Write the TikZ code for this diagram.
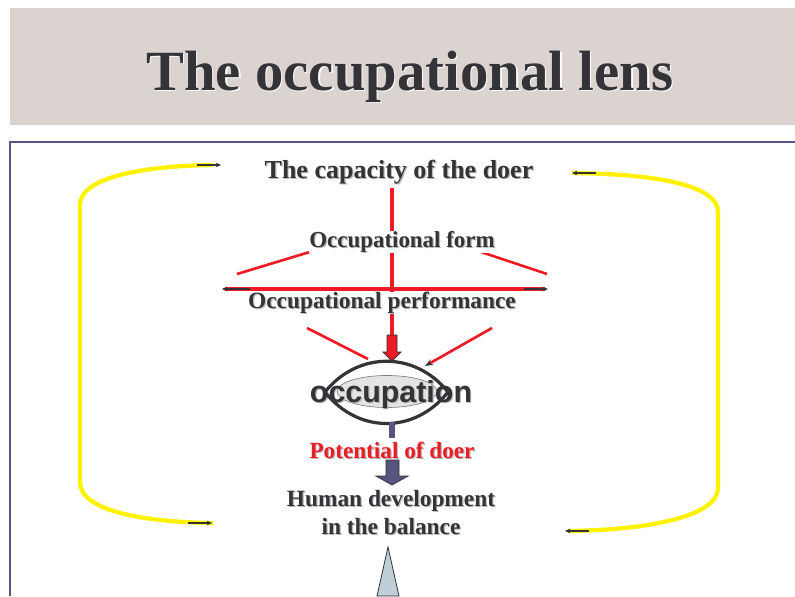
\documentclass[tikz,border=0pt]{standalone}
\usepackage{fontspec}
\setmainfont{Liberation Serif}
\newfontfamily\arialfont{Liberation Sans}
\usetikzlibrary{arrows.meta,calc}

\definecolor{bandgray}{RGB}{218,211,208}
\definecolor{framepurple}{RGB}{88,86,128}
\definecolor{lensyellow}{RGB}{255,242,0}
\definecolor{lensred}{RGB}{237,28,36}
\definecolor{inkgray}{RGB}{51,51,56}
\definecolor{shadegray}{RGB}{185,185,185}
\definecolor{arrowpurple}{RGB}{87,84,126}
\definecolor{conegray}{RGB}{190,207,215}
\definecolor{occgray}{RGB}{230,228,226}

\newcommand{\shadowed}[2]{\rlap{\color{#1}\kern0.9pt\raisebox{-0.9pt}{#2}}#2}

\tikzset{
  lbl/.style = {inner sep=0pt, anchor=base, text=inkgray},
  yellowloop/.style = {draw=lensyellow, line width=3.2pt},
  redline/.style = {draw=lensred, line width=2.8pt},
  redthin/.style = {draw=lensred, line width=2pt},
  tipdark/.style = {draw=inkgray, line width=1.1pt, -{Stealth[length=4pt,width=3.5pt]}},
}

\begin{document}
\begin{tikzpicture}[x=0.75pt, y=-0.75pt]
                \useasboundingbox(0,0)rectangle(795,596);
                % title band
                \path[fill=bandgray](10,8)rectangle(795,125);
                \node[lbl, font=\bfseries\fontsize{42.6}{46}\selectfont](title)at(410,90){\shadowed{white}{The occupational lens}};
                % frame
                \path[draw=framepurple, line width=2.2pt](10,596)--(10,142)--(795,142);
                % yellow loops
                \path[yellowloop](213,165)..controls(140,166)and(80,178)..(80,205)to(80,482)..controls(80,510)and(140,522)..(213,523);
                \path[yellowloop](572,173)..controls(660,174)and(718,186)..(718,212)to(718,488)..controls(718,516)and(650,530)..(568,531);
                \path[tipdark](197,165)to(221,165);
                \path[tipdark](188,523)to(212,523);
                \path[tipdark](596,173)to(572,173);
                \path[tipdark](589,531)to(565,531);
                % red cross
                \coordinate(V1)at(392,188);
                \coordinate(V2)at(392,362);
                \coordinate(H1)at(225,289);
                \coordinate(H2)at(545,289);
                \path[redline, line width=3.4pt](V1)to(V2);
                \path[redline](H1)to(H2);
                \path[tipdark](250,289)to(222,289);
                \path[tipdark](524,289)to(548,289);
                \path[redthin](237,274)to(313,251);
                \path[redthin](478,251)to(547,274);
                \path[redthin](307,328)to(368,359);
                \path[redthin, -{Stealth[color=inkgray, length=6pt, width=4.5pt]}](492,328)to(425,366);
                % labels
                \node[lbl, font=\bfseries\fontsize{19.5}{22}\selectfont](capacity)at(399,178){\shadowed{shadegray}{The capacity of the doer}};
                \node[lbl, fill=white, font=\bfseries\fontsize{17.2}{20}\selectfont](form)at(402,247){\shadowed{shadegray}{Occupational form}};
                \node[lbl, fill=white, font=\bfseries\fontsize{17.5}{20}\selectfont](perf)at(382,308){\shadowed{shadegray}{Occupational performance}};
                % red block arrow
                \path[draw=inkgray, fill=lensred, line width=0.6pt](387,335)--(397,335)--(397,352)--(401,352)--(392,361)--(383,352)--(387,352)--cycle;
                % lens
                \coordinate(L1)at(325,392);
                \coordinate(L2)at(448,392);
                \path[fill=occgray, draw=gray, line width=0.5pt](387,391.5)ellipse[x radius=50, y radius=16];
                \node[lbl, font=\arialfont\bfseries\fontsize{22.8}{26}\selectfont](occ)at(391,402){\shadowed{shadegray}{occupation}};
                \path[draw=inkgray, line width=2.4pt, line join=round](L1)..controls(358,351)and(415,351)..(L2)..controls(415,434)and(358,434)..(L1)--cycle;
                % below the lens
                \path[draw=arrowpurple, line width=5pt](392,422)to(392,438);
                \node[lbl, text=lensred, font=\bfseries\fontsize{17.4}{20}\selectfont](potential)at(392,458){\shadowed{shadegray}{Potential of doer}};
                \path[draw=inkgray, fill=arrowpurple, line width=0.6pt](386,460)--(399,460)--(399,476)--(408,476)--(392,485)--(376,476)--(386,476)--cycle;
                \node[lbl, anchor=center, align=center, font=\bfseries\fontsize{17.5}{21}\selectfont](human)at(391,513){\shadowed{shadegray}{Human development}\\\shadowed{shadegray}{in the balance}};
                \path[draw=inkgray, fill=conegray, line width=0.6pt](388,547)--(399,596)--(377,596)--cycle;
            \end{tikzpicture}
\end{document}
